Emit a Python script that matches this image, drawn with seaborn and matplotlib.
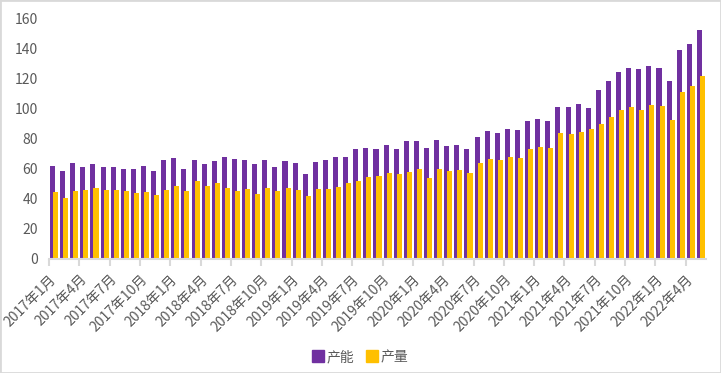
# -*- coding: utf-8 -*-
"""
产能与产量月度对比柱状图（2017年1月 - 2022年5月）
"""

import numpy as np
import pandas as pd
import matplotlib
matplotlib.use('Agg')
import matplotlib.pyplot as plt
import seaborn as sns
from matplotlib.lines import Line2D
from matplotlib.patches import Rectangle

# 月份标签
months = [f'{y}年{m}月' for y in range(2017, 2023) for m in range(1, 13)][:65]

# 产能
capacity = [
    62, 59, 64, 61.3, 63.3, 61.3, 61.3, 60, 60, 62, 59, 66,
    67.3, 60, 66, 63.3, 65.3, 68, 66.7, 66, 63.3, 66, 61.3, 65.3,
    64, 57, 65, 66, 68, 68, 73.3, 74, 73.3, 76, 73.3, 79,
    79, 74, 79.3, 75.3, 76, 73.3, 81.3, 85.3, 84, 87, 86, 92,
    93.3, 92, 101.3, 101.3, 103.3, 101, 112.7, 118.7, 124.7, 127.3, 126.7, 128.7,
    127.3, 118.7, 139.3, 143.3, 152.7,
]

# 产量
output = [
    44.7, 40.4, 45.3, 46, 47.3, 46, 46, 45.3, 44, 44.7, 42.7, 46,
    48.7, 45.3, 52, 48.9, 50.7, 47.3, 45.6, 46.7, 43.1, 47.3, 45.3, 47.3,
    46, 42, 46.7, 46.7, 48.2, 50.7, 52, 54.7, 55.3, 57.3, 56.7, 58,
    59.8, 54, 60, 58.7, 59.3, 57.3, 63.8, 66.4, 66, 67.8, 67.1, 73.3,
    74.7, 74, 84, 83.3, 84.7, 86.7, 89.8, 94.7, 99.3, 101.3, 99.3, 102.7,
    102, 92.7, 111.3, 115.3, 122,
]

series_names = ['产能', '产量']
colors = ['#7030A0', '#FFC000']
grey_text = '#595959'
grey_line = '#D9D9D9'

sns.set_theme(style='white')
plt.rcParams['font.family'] = ['Noto Sans CJK SC', 'DejaVu Sans']

df = pd.DataFrame({
    '月份': months * 2,
    '值': capacity + output,
    '指标': [series_names[0]] * len(months) + [series_names[1]] * len(months),
})

fig = plt.figure(figsize=(7.21, 3.73), dpi=100)
ax = fig.add_axes([49 / 721, 1 - 259 / 373, 657 / 721, 240 / 373])

sns.barplot(data=df, x='月份', y='值', hue='指标', hue_order=series_names,
            palette=colors, width=0.6, ax=ax, legend=False, saturation=1)

# 柱子略微重叠（Excel风格）
for p in ax.patches:
    c = p.get_x() + p.get_width() / 2
    p.set_width(0.5)
    p.set_x(c - 0.25)
    p.set_linewidth(0)

ax.set_xlim(-0.5, len(months) - 0.5)
ax.set_ylim(0, 160)
ax.set_yticks(range(0, 161, 20))
ax.set_xlabel('')
ax.set_ylabel('')

for s in ['top', 'right', 'left']:
    ax.spines[s].set_visible(False)
ax.spines['bottom'].set_color(grey_line)
ax.spines['bottom'].set_linewidth(1.5)

ax.set_xticks(range(0, len(months), 3))
ax.set_xticklabels(months[::3], rotation=45, ha='right', va='center',
                   rotation_mode='anchor', color=grey_text, fontsize=10)
ax.set_xticks(np.arange(-0.5, len(months) - 1, 3), minor=True)
ax.tick_params(axis='x', which='major', length=0, pad=13)
ax.tick_params(axis='x', which='minor', length=5, width=1.5, color=grey_line,
               direction='out', bottom=True)
ax.tick_params(axis='y', length=0, pad=8, labelcolor=grey_text, labelsize=10)

handles = [Line2D([], [], marker='s', linestyle='', markersize=8,
                  markerfacecolor=c, markeredgecolor=c) for c in colors]
fig.legend(handles, series_names, loc='center', bbox_to_anchor=(0.5, 1 - 357 / 373),
           ncol=2, frameon=False, handlelength=0.8, handletextpad=0.2,
           columnspacing=0.9, fontsize=10, labelcolor=grey_text)

fig.patches.append(Rectangle((0, 0), 1, 1, transform=fig.transFigure, fill=False,
                             edgecolor=grey_line, linewidth=2))

fig.savefig('out.png', dpi=100)
